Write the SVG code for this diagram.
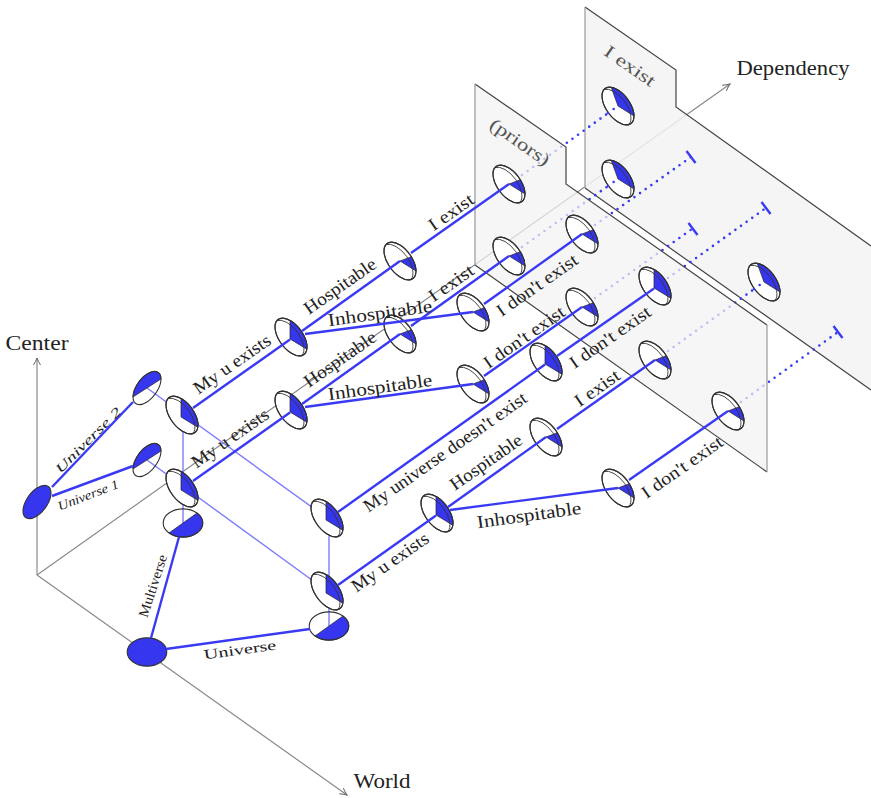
<svg xmlns="http://www.w3.org/2000/svg" width="871" height="798" viewBox="0 0 871 798">
<style>
.ax{fill:none;stroke:#8a8a8a;stroke-width:1.2}
.pl{fill:#f3f3f3;stroke:none}
.pe{fill:none;stroke:#444;stroke-width:1.2}
.pv{fill:none;stroke:#999;stroke-width:1.2}
.th{fill:none;stroke:#7c7cff;stroke-width:1.4}
.so{fill:none;stroke:#3a3af5;stroke-width:2.4}
.do{fill:none;stroke:#3a3af5;stroke-width:2.6;stroke-linecap:round;stroke-dasharray:0 6.9}
.o{fill:#fff;stroke:#333;stroke-width:1.1;vector-effect:non-scaling-stroke}
.h{fill:none;stroke:#333;stroke-width:1.1;vector-effect:non-scaling-stroke}
.b{fill:#3636ee;stroke:#222;stroke-width:.7;vector-effect:non-scaling-stroke}
.s{fill:#3636ee;stroke:#333;stroke-width:1.1;vector-effect:non-scaling-stroke}
.i{fill:none;stroke:#333;stroke-width:.9;vector-effect:non-scaling-stroke}
text{font-family:"Liberation Serif","Times New Roman",serif;fill:#222;text-anchor:middle;dominant-baseline:central}
.l{font-size:18px}
.a{font-size:20px}
.t{font-size:14px}
.it{font-size:13px;font-style:italic}
.g{fill:#555}
</style>
<defs>
<marker id="arr" markerWidth="10" markerHeight="10" refX="8" refY="4" orient="auto" markerUnits="userSpaceOnUse"><path d="M1,0.5 Q5,3 8,4 Q5,5 1,7.5" fill="none" stroke="#666" stroke-width="1"/></marker>
<g id="A" transform="matrix(1 .625 0 1 0 0)"><circle class="o" r="16"/><path class="b" d="M-1,2.6 L-1,-16 A16,16 0 0 1 15.8,2.4 Z"/><path class="i" d="M-14,-7.7 A16,16 0 0 1 11,11.6"/><circle class="h" r="16"/></g>
<g id="B" transform="matrix(1 .625 0 1 0 0)"><circle class="o" r="16"/><path class="b" d="M0,0 L11.3,-11.3 A16,16 0 0 1 16,0 Z"/><path class="i" d="M-14,-7.7 A16,16 0 0 1 11,11.6"/><circle class="h" r="16"/></g>
<g id="C" transform="matrix(1 .625 0 1 0 0)"><circle class="o" r="16"/><path class="b" d="M0,0 L-6.8,-14.5 A16,16 0 0 1 16,0 Z"/><path class="i" d="M-14,-7.7 A16,16 0 0 1 11,11.6"/><circle class="h" r="16"/></g>
<g id="D" transform="matrix(1 -.64 0 1 0 0)"><path class="b" d="M-14,0 A14,14 0 0 1 14,0 Z"/><circle class="h" r="14"/></g>
<g id="E" transform="matrix(1 .714 1 -.714 0 0)"><path class="b" d="M0,-14 A14,14 0 0 1 0,14 Z"/><circle class="h" r="14"/></g>
</defs>

<g id="axes">
<path class="ax" d="M37,575 L37,358" marker-end="url(#arr)"/>
<path class="ax" d="M37,575 L347,795" marker-end="url(#arr)"/>
<path class="ax" d="M37,575 L730,84" marker-end="url(#arr)"/>
</g>

<g id="plane-back">
<path class="pl" style="fill-opacity:.85" d="M585,7 L676,70 L676,107 L871,246 L871,390 L585,188 Z"/>
<path class="pe" d="M585,7 L676,70 L676,107 L871,246 M585,188 L871,390"/>
<path class="pv" d="M585,7 L585,188"/>
</g>

<g id="connectors-dotted">
<path class="do" d="M522,175 L618,106"/>
<path class="do" d="M522,247 L618,179"/>
<path class="do" d="M595,225 L691,157"/>
<path class="do" d="M595,298 L692,229"/>
<path class="do" d="M668,278 L766,208"/>
<path class="do" d="M668,351 L764,282"/>
<path class="do" d="M741,402 L838,332"/>
<path class="so" d="M686.5,151 L695.5,163 M688.5,223 L697.5,235 M761.5,202 L770.5,214 M833.5,326 L842.5,338"/>
</g>

<g id="plane-front">
<path class="pl" style="fill-opacity:.72" d="M475,84 L566,147 L566,184 L767,325 L767,472 L475,265 Z"/>
<path class="pe" d="M475,84 L566,147 L566,184 L767,325 M767,472 L475,265"/>
<path class="pv" d="M475,84 L475,265 M767,325 L767,472"/>
</g>

<g id="connectors-thin">
<path class="th" d="M147,388 L327,518"/>
<path class="th" d="M147,460 L327,591"/>
<path class="th" d="M183,415 L183,523"/>
<path class="th" d="M329,518 L329,626"/>
</g>

<g id="node-root"><circle class="s" r="14" transform="translate(147,652) matrix(1 .714 1 -.714 0 0)"/></g>
<g id="node-u"><circle class="s" r="14" transform="translate(37,502) matrix(1 -.64 0 1 0 0)"/></g>
<g id="node-u1" transform="translate(147,388)"><use href="#D"/></g>
<g id="node-u2" transform="translate(147,460)"><use href="#D"/></g>
<g id="node-m1" transform="translate(183,523)"><use href="#E"/></g>
<g id="node-m2" transform="translate(329,626)"><use href="#E"/></g>
<g id="n1" transform="translate(182,415)"><use href="#A"/></g>
<g id="n2" transform="translate(182,488)"><use href="#A"/></g>
<g id="n3" transform="translate(327,518)"><use href="#A"/></g>
<g id="n4" transform="translate(327,591)"><use href="#A"/></g>
<g id="n5" transform="translate(291,337)"><use href="#A"/></g>
<g id="n6" transform="translate(291,410)"><use href="#A"/></g>
<g id="n7" transform="translate(400,261)"><use href="#B"/></g>
<g id="n8" transform="translate(400,334)"><use href="#B"/></g>
<g id="n9" transform="translate(473,312)"><use href="#B"/></g>
<g id="n10" transform="translate(473,384)"><use href="#B"/></g>
<g id="n11" transform="translate(509,184)"><use href="#B"/></g>
<g id="n12" transform="translate(509,256)"><use href="#B"/></g>
<g id="n13" transform="translate(582,234)"><use href="#B"/></g>
<g id="n14" transform="translate(582,307)"><use href="#B"/></g>
<g id="n15" transform="translate(546,362)"><use href="#A"/></g>
<g id="n16" transform="translate(546,437)"><use href="#B"/></g>
<g id="n17" transform="translate(437,513)"><use href="#A"/></g>
<g id="n18" transform="translate(618,488)"><use href="#B"/></g>
<g id="n19" transform="translate(655,286)"><use href="#A"/></g>
<g id="n20" transform="translate(655,360)"><use href="#B"/></g>
<g id="n21" transform="translate(728,411)"><use href="#B"/></g>
<g id="n22" transform="translate(618,106)"><use href="#C"/></g>
<g id="n23" transform="translate(618,179)"><use href="#C"/></g>
<g id="n24" transform="translate(764,282)"><use href="#C"/></g>

<g id="connectors">
<path class="so" d="M151,638 L179,537"/>
<path class="so" d="M166,649 L310,629"/>
<path class="so" d="M52,487 L133,402"/>
<path class="so" d="M52,496 L133,466"/>
<path class="so" d="M193,408 L290,339.5"/>
<path class="so" d="M193,481 L290,412.5"/>
<path class="so" d="M338,512 L545,364.5"/>
<path class="so" d="M338,585 L436,515.5"/>
<path class="so" d="M302,331 L400,261"/>
<path class="so" d="M305,334 L473,312"/>
<path class="so" d="M302,404 L400,334"/>
<path class="so" d="M305,407 L473,384"/>
<path class="so" d="M411,253 L509,184"/>
<path class="so" d="M411,326 L509,256"/>
<path class="so" d="M484,304 L582,234"/>
<path class="so" d="M484,376 L582,307"/>
<path class="so" d="M557,356 L654,288.5"/>
<path class="so" d="M448,507 L546,437"/>
<path class="so" d="M450,510 L618,488"/>
<path class="so" d="M557,429 L655,360"/>
<path class="so" d="M629,480 L728,411"/>
<path class="do" d="M608,113 L618,106"/>
<path class="do" d="M608,186 L618,179"/>
<path class="do" d="M754,289 L764,282"/>
</g>

<g id="labels">
<text class="a" x="37" y="343" textLength="63" lengthAdjust="spacingAndGlyphs">Center</text>
<text class="a" x="793" y="68" textLength="113" lengthAdjust="spacingAndGlyphs">Dependency</text>
<text class="a" x="382" y="781" textLength="57" lengthAdjust="spacingAndGlyphs">World</text>
<text class="it" transform="translate(88,440) rotate(-45)" textLength="87" lengthAdjust="spacingAndGlyphs">Universe 2</text>
<text class="it" transform="translate(88,495) rotate(-21)" textLength="64" lengthAdjust="spacingAndGlyphs">Universe 1</text>
<text class="t" transform="translate(153,586) rotate(-72)" textLength="65" lengthAdjust="spacingAndGlyphs">Multiverse</text>
<text class="t" transform="translate(240,650) rotate(-8)" textLength="73" lengthAdjust="spacingAndGlyphs">Universe</text>
<text class="l" transform="translate(232,364) rotate(-35)" textLength="90" lengthAdjust="spacingAndGlyphs">My u exists</text>
<text class="l" transform="translate(230,438) rotate(-35)" textLength="90" lengthAdjust="spacingAndGlyphs">My u exists</text>
<text class="l" transform="translate(390,562) rotate(-35)" textLength="90" lengthAdjust="spacingAndGlyphs">My u exists</text>
<text class="l" transform="translate(340,286) rotate(-35)" textLength="84" lengthAdjust="spacingAndGlyphs">Hospitable</text>
<text class="l" transform="translate(340,359) rotate(-35)" textLength="84" lengthAdjust="spacingAndGlyphs">Hospitable</text>
<text class="l" transform="translate(486,462) rotate(-35)" textLength="84" lengthAdjust="spacingAndGlyphs">Hospitable</text>
<text class="l" transform="translate(380,313) rotate(-8)" textLength="105" lengthAdjust="spacingAndGlyphs">Inhospitable</text>
<text class="l" transform="translate(380,387) rotate(-8)" textLength="105" lengthAdjust="spacingAndGlyphs">Inhospitable</text>
<text class="l" transform="translate(529,515) rotate(-8)" textLength="105" lengthAdjust="spacingAndGlyphs">Inhospitable</text>
<text class="l" transform="translate(451,212) rotate(-35)" textLength="51" lengthAdjust="spacingAndGlyphs">I exist</text>
<text class="l" transform="translate(451,283) rotate(-35)" textLength="51" lengthAdjust="spacingAndGlyphs">I exist</text>
<text class="l" transform="translate(597,388) rotate(-35)" textLength="51" lengthAdjust="spacingAndGlyphs">I exist</text>
<text class="l" transform="translate(537,285) rotate(-35)" textLength="95" lengthAdjust="spacingAndGlyphs">I don't exist</text>
<text class="l" transform="translate(524,337) rotate(-35)" textLength="95" lengthAdjust="spacingAndGlyphs">I don't exist</text>
<text class="l" transform="translate(610,337) rotate(-35)" textLength="95" lengthAdjust="spacingAndGlyphs">I don't exist</text>
<text class="l" transform="translate(682,467) rotate(-35)" textLength="95" lengthAdjust="spacingAndGlyphs">I don't exist</text>
<text class="l" transform="translate(445,452) rotate(-35)" textLength="195" lengthAdjust="spacingAndGlyphs">My universe doesn't exist</text>
<text class="l g" transform="translate(520,142) rotate(35)" textLength="69" lengthAdjust="spacingAndGlyphs">(priors)</text>
<text class="l g" transform="translate(630,66) rotate(35)" textLength="58" lengthAdjust="spacingAndGlyphs">I exist</text>
</g>
</svg>
